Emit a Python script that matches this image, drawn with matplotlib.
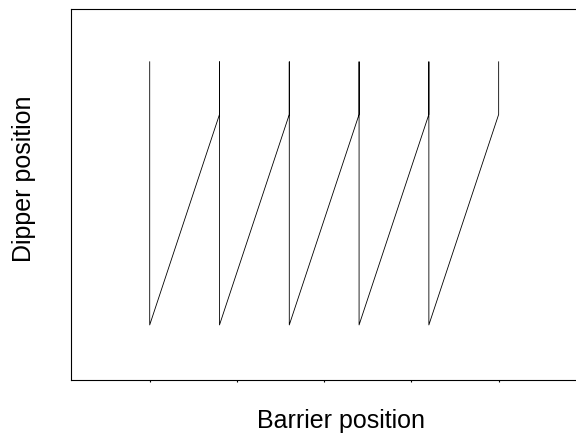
import matplotlib
matplotlib.use("Agg")
from matplotlib import pyplot as plt

# sawtooth path: barrier position vs dipper position
barrier = [0, 0, 1, 1, 1, 2, 2, 2, 3, 3, 3, 4, 4, 4, 5, 5]
dipper = [1, 0, 0.8, 1, 0, 0.8, 1, 0, 0.8, 1, 0, 0.8, 1, 0, 0.8, 1]
xticks = [0, 1.25, 2.5, 3.75, 5]

plt.rcParams['font.family'] = ['Liberation Sans', 'DejaVu Sans']

fig = plt.figure(figsize=(5.76, 4.37), dpi=100)
# plot region runs past the right edge of the image (box is cut off there)
ax = fig.add_axes([0.123, 0.130, 0.939, 0.849])
ax.plot(barrier, dipper, color='black', linewidth=0.6)
ax.set_xlim(-1.13, 6.62)
ax.set_ylim(-0.21, 1.2)
ax.set_xticks(xticks)
ax.set_xticklabels([])
ax.set_yticks([])
ax.tick_params(axis='x', length=1.5, width=0.8, direction='out')
for s in ax.spines.values():
    s.set_linewidth(0.8)
ax.set_xlabel('Barrier position', fontsize=18, labelpad=16)
ax.set_ylabel('Dipper position', fontsize=18, labelpad=25)
ax.yaxis.label.set_y(0.542)
fig.savefig('out.png', dpi=100)
